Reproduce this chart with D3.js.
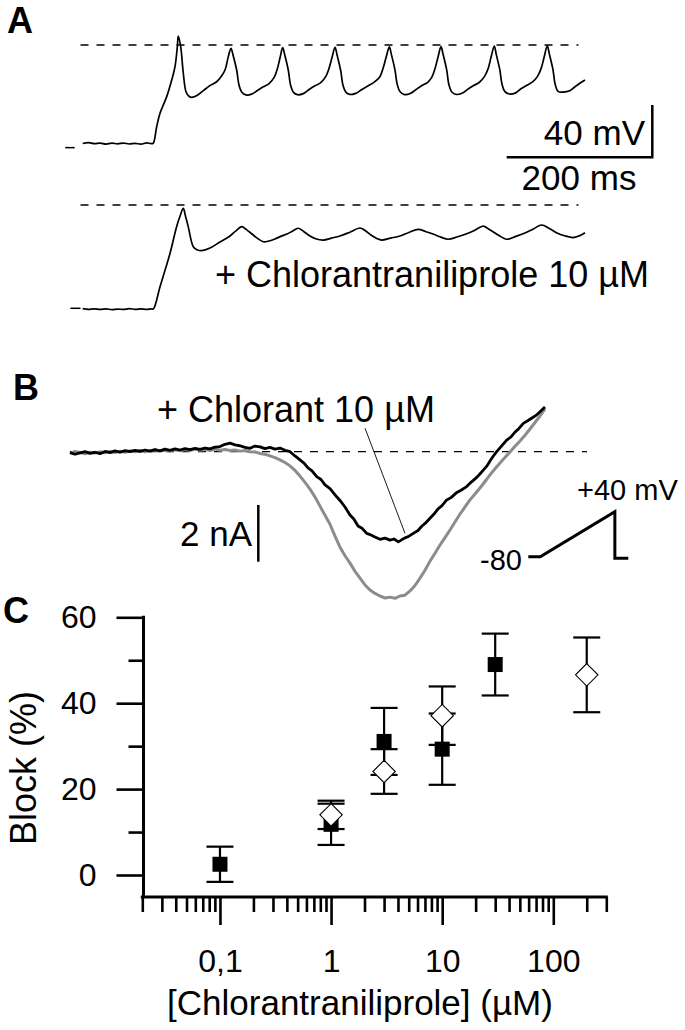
<!DOCTYPE html>
<html>
<head>
<meta charset="utf-8">
<script src="https://cdn.jsdelivr.net/npm/d3@7"></script>
<style>
  body { margin: 0; background: #fff; }
  svg { display: block; }
  text { font-family: "Liberation Sans", Arial, sans-serif; fill: #000; }
</style>
</head>
<body>
<div id="fig"></div>
<script>
// ---------- Panel A : action potentials (t in ms, V in mV) ----------
const apControl = [
  [0,-75.3],[8,-74.6],[16,-75.4],[24,-75.0],[32,-75.8],[40,-75.1],[48,-75.6],[56,-75.0],[64,-75.7],[72,-75.2],
  [80,-75.8],[88,-74.8],[94,-75.5],[97,-75.0],
  [101.6,-62.5],[106.2,-52.2],[115.4,-39.5],[122.3,-26.8],[126.8,-16.6],[130,-1.3],[131.3,6.9],[134.6,-1.3],
  [138.2,-21.6],[141.9,-35.7],[146,-39.2],[149.7,-40.0],[157,-38.6],[165.7,-34.9],[175,-31.0],[184,-28.1],[191,-23.5],
  [195.5,-19.1],[200,-8.9],[203.7,-2.5],[206.5,-7.6],[211.5,-19.1],[214.7,-30.6],[218.4,-35.9],[224.3,-38.2],
  [232,-37.6],[240,-34.8],[248,-32.0],[256,-29.5],[263,-24.8],[267,-19.0],[271,-10.0],[274.7,-2.0],
  [277.5,-7.5],[282.5,-19.5],[285.5,-30.5],[289.5,-36.2],[295,-38.0],
  [303,-37.2],[311,-34.0],[319,-31.2],[327,-28.8],[334,-24.0],[338,-18.5],[342.5,-9.5],[346.6,-1.8],
  [349.5,-7.8],[354.5,-19.8],[357.5,-30.8],[361.5,-36.0],[367,-37.8],
  [375,-37.0],[383,-34.2],[391,-31.5],[399,-29.0],[408,-24.5],[412.5,-18.0],[417,-9.0],[421.2,-1.5],
  [424,-7.2],[429,-19.2],[432,-30.0],[436,-35.8],[442,-37.9],
  [450,-37.1],[458,-34.0],[466,-31.0],[474,-28.6],[480,-24.2],[484,-18.0],[488,-9.5],[492.2,-1.2],
  [495,-7.0],[500,-19.0],[503,-30.2],[507,-35.9],[513,-37.8],
  [521,-36.9],[529,-33.8],[537,-31.0],[545,-28.5],[552,-24.0],[557,-18.0],[561,-9.2],[565.4,-0.8],
  [568,-7.0],[573,-19.0],[576,-30.0],[580,-35.7],[586,-37.5],
  [594,-36.8],[602,-33.5],[610,-30.8],[618,-28.2],[625,-23.8],[630,-17.5],[634,-9.0],[638.2,-0.6],
  [641,-6.8],[646,-18.8],[649,-30.0],[653,-35.5],[660,-36.0],[669,-35.0],[675,-32.5],[681,-30.0],[690,-26.8]
];
const apDrug = [
  [0,-79.3],[8,-79.8],[16,-79.4],[24,-79.9],[32,-79.5],[40,-80.0],[48,-79.6],[56,-79.9],[64,-79.3],[72,-79.8],
  [80,-79.5],[88,-79.9],[94,-79.4],[97,-79.6],
  [106.2,-62.5],[113,-50.0],[120,-36.9],[129,-16.6],[134,-8.0],[138.2,-2.5],[141,-8.0],[145,-16.6],
  [151.9,-31.9],[157,-34.2],[163.5,-34.9],[174.9,-32.9],[188.6,-28.3],[202.3,-23.7],[210,-20.0],[218.4,-16.6],
  [225,-18.8],[232.6,-22.2],[240,-25.5],[248.1,-28.1],[256,-27.5],[264.1,-26.0],[272,-24.0],[280.6,-22.2],
  [288,-20.0],[296.2,-17.8],[304,-20.5],[312.2,-23.7],[321,-26.0],[330.5,-26.8],[342,-25.3],[353.4,-23.7],
  [367,-20.8],[380.9,-17.6],[388,-19.5],[396,-23.0],[404,-25.6],[410.7,-26.8],[423,-25.3],[435.8,-23.7],
  [448,-21.0],[461,-18.6],[471,-20.3],[481.2,-22.2],[492,-24.6],[502.2,-26.2],[514,-24.5],[526.5,-22.2],
  [538,-19.5],[550.3,-16.1],[558,-18.6],[566.3,-21.4],[574,-24.0],[582.4,-26.2],[595,-24.0],[607.5,-21.4],
  [619,-18.3],[630.5,-15.3],[641,-18.0],[651.5,-21.4],[662,-23.5],[673.5,-24.9],[682,-23.6],[690,-21.2]
];
const apZeroSpan = [-3, 681];          // dashed 0 mV reference, ms
const apMarkControl = [[-24, -78.5], [-11, -78.5]];
const apMarkDrug = [[-17, -79], [-3, -79]];
const apScaleBar = { ms: 200, mV: 40 };

// ---------- Panel B : ramp currents (t in ms, I in nA) ----------
const iControl = [
  [0,-0.06],[5,0.01],[10,-0.03],[15,-0.07],[20,-0.02],[25,-0.05],[30,0.00],[35,-0.04],[40,0.01],[45,-0.03],
  [50,0.02],[55,-0.02],[60,0.03],[65,0.00],[70,0.04],[75,0.00],[80,0.03],[85,0.06],[90,0.02],[95,0.05],
  [100,0.03],[105,0.07],[110,0.03],[115,0.08],[120,0.04],[125,0.09],[130,0.05],[135,0.08],[140,0.04],[145,0.09],
  [150,0.05],[155,0.08],[160,0.04],[165,0.06],[170,0.02],[175,0.04],[180,0.00],[185,-0.01],[190,-0.06],[195,-0.09],
  [200,-0.15],[205,-0.21],[210,-0.29],[215,-0.38],[220,-0.50],[225,-0.66],[230,-0.86],[235,-1.08],[240,-1.32],
  [245,-1.60],[250,-1.92],[255,-2.24],[260,-2.56],[265,-2.98],[270,-3.37],[275,-3.67],[280,-3.93],[285,-4.22],
  [290,-4.46],[295,-4.70],[300,-4.88],[305,-5.00],[310,-5.09],[315,-5.16],[320,-5.13],[325,-5.17],[330,-5.09],
  [335,-5.06],[340,-4.91],[345,-4.72],[350,-4.46],[355,-4.18],[360,-3.86],[365,-3.58],[370,-3.29],[375,-3.03],
  [380,-2.76],[385,-2.48],[390,-2.20],[395,-1.95],[400,-1.70],[405,-1.49],[410,-1.28],[415,-1.05],[420,-0.82],
  [425,-0.60],[430,-0.40],[435,-0.20],[440,-0.01],[445,0.19],[450,0.38],[455,0.58],[460,0.80],[465,1.03],
  [470,1.26],[475,1.51]
];
const iDrug = [
  [0,-0.03],[5,-0.09],[10,-0.04],[15,0.00],[20,-0.06],[25,-0.02],[30,-0.07],[35,0.01],[40,-0.03],[45,0.03],
  [50,-0.02],[55,0.04],[60,0.00],[65,0.05],[70,0.01],[75,0.06],[80,0.02],[85,0.07],[90,0.03],[95,0.09],
  [100,0.05],[105,0.10],[110,0.06],[115,0.11],[120,0.07],[125,0.12],[130,0.08],[135,0.13],[140,0.10],[145,0.16],
  [150,0.18],[155,0.26],[160,0.30],[165,0.24],[170,0.21],[175,0.15],[180,0.12],[185,0.20],[190,0.17],[195,0.11],
  [200,0.15],[205,0.09],[210,0.13],[215,0.05],[220,0.00],[225,-0.15],[230,-0.29],[234,-0.40],[238,-0.57],
  [242,-0.68],[246.7,-0.88],[251,-0.98],[255,-1.17],[260,-1.30],[266.7,-1.59],[270,-1.72],[275,-1.95],
  [280,-2.23],[284,-2.38],[288,-2.62],[292,-2.70],[296.7,-2.88],[301,-2.94],[305,-3.01],[310,-3.09],
  [315,-3.05],[320,-3.12],[324,-3.08],[328.3,-3.18],[332,-3.10],[335,-3.04],[339,-2.98],[343.3,-2.88],
  [348,-2.78],[352,-2.62],[356,-2.50],[360,-2.35],[364,-2.20],[368,-2.02],[372,-1.90],[376.7,-1.70],
  [381,-1.62],[386,-1.46],[391,-1.36],[396.7,-1.23],[401,-1.08],[405,-0.96],[409,-0.82],[413.3,-0.65],
  [417,-0.50],[420,-0.33],[423,-0.17],[426.7,0.00],[431,0.18],[436.7,0.41],[441,0.52],[445,0.69],
  [449,0.82],[453.3,1.00],[458,1.10],[462,1.19],[466,1.28],[470,1.41],[475,1.58]
];
const iZeroSpan = [0, 517];
const pointerFrom = [295, 0.83];
const pointerTo = [335, -2.88];
const iScaleBar = 2;                   // nA
const rampT = [0, 16, 116, 116, 134];  // ms
const rampV = [-80, -80, 40, -84, -84]; // mV

// ---------- Panel C : dose-response ----------
const concSquare = [0.1, 1, 3, 10, 30];
const blockSquare = [2.5, 11.8, 31.1, 29.3, 49.0];
const errSquare = [4.1, 4.8, 7.8, 8.3, 7.2];
const concDiamond = [1, 3, 10, 200];
const blockDiamond = [14.0, 24.1, 37.1, 46.6];
const errDiamond = [3.3, 5.2, 6.8, 8.7];
const yMajor = [0, 20, 40, 60];
const yMinor = [10, 30, 50];
const xMajor = [0.1, 1, 10, 100];
const xMajorLabels = ["0,1", "1", "10", "100"];
const xMinor = [0.02,0.03,0.04,0.05,0.06,0.07,0.08,0.09, 0.2,0.3,0.4,0.5,0.6,0.7,0.8,0.9,
                2,3,4,5,6,7,8,9, 20,30,40,50,60,70,80,90, 200,300];

const svg = d3.select("#fig").append("svg")
    .attr("width", 685)
    .attr("height", 1030);

const panelLabel = (txt, x, y) => svg.append("text")
    .attr("x", x).attr("y", y)
    .style("font-size", "36px").style("font-weight", "bold")
    .text(txt);

// ================= Panel A =================
const xA = d3.scaleLinear().domain([0, 690]).range([82.7, 585]);
const yA1 = d3.scaleLinear().domain([0, 40]).range([45, 45 - 52.3]);
const yA2 = d3.scaleLinear().domain([0, 40]).range([205, 205 - 52.3]);

panelLabel("A", 7, 33);

[[yA1, apControl, apMarkControl], [yA2, apDrug, apMarkDrug]].forEach(([yS, trace, mark]) => {
    svg.append("line")
        .attr("x1", xA(apZeroSpan[0])).attr("x2", xA(apZeroSpan[1]))
        .attr("y1", yS(0)).attr("y2", yS(0))
        .attr("stroke", "#000").attr("stroke-width", 1.3)
        .attr("stroke-dasharray", "8,8");
    svg.append("line")
        .attr("x1", xA(mark[0][0])).attr("x2", xA(mark[1][0]))
        .attr("y1", yS(mark[0][1])).attr("y2", yS(mark[1][1]))
        .attr("stroke", "#000").attr("stroke-width", 1.5);
    svg.append("path")
        .datum(trace)
        .attr("fill", "none")
        .attr("stroke", "#000")
        .attr("stroke-width", 1.7)
        .attr("stroke-linejoin", "round")
        .attr("d", d3.line().curve(d3.curveCatmullRom.alpha(0.5)).x(d => xA(d[0])).y(d => yS(d[1])));
});

// scale bar A
const sbX = 652.3, sbY = 157.3;
const sbW = xA(apScaleBar.ms) - xA(0);
const sbH = yA1(0) - yA1(apScaleBar.mV);
svg.append("path")
    .attr("d", `M${sbX - sbW},${sbY}H${sbX}V${sbY - sbH}`)
    .attr("fill", "none").attr("stroke", "#000").attr("stroke-width", 2.5);
svg.append("text").attr("x", 645).attr("y", 145).attr("text-anchor", "end")
    .style("font-size", "35px").text(apScaleBar.mV + " mV");
svg.append("text").attr("x", 579).attr("y", 190).attr("text-anchor", "middle")
    .style("font-size", "35px").text(apScaleBar.ms + " ms");

svg.append("text").attr("x", 215).attr("y", 287)
    .style("font-size", "36px").text("+ Chlorantraniliprole 10 µM");

// ================= Panel B =================
const xB = d3.scaleLinear().domain([0, 475]).range([70, 545]);
const yB = d3.scaleLinear().domain([0, 2]).range([451.7, 451.7 - 56.7]);

panelLabel("B", 13, 400);

svg.append("line")
    .attr("x1", xB(iZeroSpan[0])).attr("x2", xB(iZeroSpan[1]))
    .attr("y1", yB(0)).attr("y2", yB(0))
    .attr("stroke", "#000").attr("stroke-width", 1.3)
    .attr("stroke-dasharray", "8,8");

const lineB = d3.line().x(d => xB(d[0])).y(d => yB(d[1]));
svg.append("path").datum(iControl)
    .attr("fill", "none").attr("stroke", "#8c8c8c").attr("stroke-width", 3)
    .attr("stroke-linejoin", "round").attr("d", lineB);
svg.append("path").datum(iDrug)
    .attr("fill", "none").attr("stroke", "#000").attr("stroke-width", 2.8)
    .attr("stroke-linejoin", "round").attr("d", lineB);

svg.append("line")
    .attr("x1", xB(pointerFrom[0])).attr("y1", yB(pointerFrom[1]))
    .attr("x2", xB(pointerTo[0])).attr("y2", yB(pointerTo[1]))
    .attr("stroke", "#000").attr("stroke-width", 0.9);
svg.append("text").attr("x", 157).attr("y", 422)
    .style("font-size", "36px").text("+ Chlorant 10 µM");

// 2 nA bar
svg.append("line")
    .attr("x1", 258.3).attr("x2", 258.3)
    .attr("y1", 561.7).attr("y2", 561.7 - (yB(0) - yB(iScaleBar)))
    .attr("stroke", "#000").attr("stroke-width", 2.5);
svg.append("text").attr("x", 252).attr("y", 546).attr("text-anchor", "end")
    .style("font-size", "35px").text(iScaleBar + " nA");

// voltage protocol
const xP = d3.scaleLinear().domain([0, 134]).range([528.3, 628.3]);
const yP = d3.scaleLinear().domain([-80, 40]).range([556.7, 511.7]);
svg.append("path")
    .datum(rampT.map((t, i) => [t, rampV[i]]))
    .attr("fill", "none").attr("stroke", "#000").attr("stroke-width", 3)
    .attr("d", d3.line().x(d => xP(d[0])).y(d => yP(d[1])));
svg.append("text").attr("x", 522).attr("y", 570).attr("text-anchor", "end")
    .style("font-size", "29px").text(rampV[0]);
svg.append("text").attr("x", 577).attr("y", 500)
    .style("font-size", "29px").text("+" + rampV[2] + " mV");

// ================= Panel C =================
const xC = d3.scaleLog().domain([0.02, 300]).range([142.3, 606.3]);
const yC = d3.scaleLinear().domain([0, 60]).range([875, 617.3]);
const axX = 143.5, axY = 897;

panelLabel("C", 3, 623);

// y axis
const gy = svg.append("g").attr("transform", `translate(${axX},0)`);
gy.call(d3.axisLeft(yC).tickValues(yMajor).tickSize(27).tickSizeOuter(0).tickPadding(20));
gy.append("g").call(d3.axisLeft(yC).tickValues(yMinor).tickSize(15).tickSizeOuter(0).tickFormat(""));
gy.selectAll(".domain").remove();
gy.append("line").attr("x1", 0).attr("x2", 0).attr("y1", yC(60) - 1.5).attr("y2", axY)
    .attr("stroke", "#000").attr("stroke-width", 3);

// x axis
const gx = svg.append("g").attr("transform", `translate(0,${axY})`);
gx.call(d3.axisBottom(xC).tickValues(xMajor).tickSize(28).tickSizeOuter(0).tickPadding(24)
    .tickFormat((d, i) => xMajorLabels[i]));
gx.append("g").call(d3.axisBottom(xC).tickValues(xMinor).tickSize(15).tickSizeOuter(0).tickFormat(""));
gx.selectAll(".domain").remove();
gx.append("line").attr("x1", xC(0.02) - 1.5).attr("x2", xC(300) + 1.5).attr("y1", 0).attr("y2", 0)
    .attr("stroke", "#000").attr("stroke-width", 3);

svg.selectAll(".tick line").attr("stroke", "#000").attr("stroke-width", 2.6);
svg.selectAll(".tick text")
    .style("font-family", '"Liberation Sans", Arial, sans-serif')
    .style("font-size", "32px");

svg.append("text")
    .attr("x", 360).attr("y", 1015).attr("text-anchor", "middle")
    .style("font-size", "35px").text("[Chlorantraniliprole] (µM)");
svg.append("text")
    .attr("transform", "translate(36,768) rotate(-90)")
    .attr("text-anchor", "middle")
    .style("font-size", "36px").text("Block (%)");

// error bars
const series = [
    { x: concSquare, y: blockSquare, e: errSquare },
    { x: concDiamond, y: blockDiamond, e: errDiamond }
];
const capW = 13.5;
series.forEach(s => {
    const pts = s.x.map((c, i) => ({ c, v: s.y[i], e: s.e[i] }));
    const g = svg.append("g").attr("stroke", "#000").attr("stroke-width", 2.2);
    g.selectAll("line.v").data(pts).enter().append("line")
        .attr("x1", d => xC(d.c)).attr("x2", d => xC(d.c))
        .attr("y1", d => yC(d.v + d.e)).attr("y2", d => yC(d.v - d.e));
    g.selectAll("line.t").data(pts).enter().append("line")
        .attr("x1", d => xC(d.c) - capW).attr("x2", d => xC(d.c) + capW)
        .attr("y1", d => yC(d.v + d.e)).attr("y2", d => yC(d.v + d.e));
    g.selectAll("line.b").data(pts).enter().append("line")
        .attr("x1", d => xC(d.c) - capW).attr("x2", d => xC(d.c) + capW)
        .attr("y1", d => yC(d.v - d.e)).attr("y2", d => yC(d.v - d.e));
});

// squares
svg.selectAll(".sq").data(concSquare).enter().append("rect")
    .attr("class", "sq")
    .attr("x", d => xC(d) - 7.5)
    .attr("y", (d, i) => yC(blockSquare[i]) - 7.5)
    .attr("width", 15).attr("height", 15)
    .attr("fill", "#000");

// diamonds
const dia = d3.symbol().type(d3.symbolDiamond2).size(320);
svg.selectAll(".dm").data(concDiamond).enter().append("path")
    .attr("class", "dm")
    .attr("transform", (d, i) => `translate(${xC(d)},${yC(blockDiamond[i])})`)
    .attr("d", dia)
    .attr("fill", "#fff")
    .attr("stroke", "#000")
    .attr("stroke-width", 1.1);
</script>
</body>
</html>
